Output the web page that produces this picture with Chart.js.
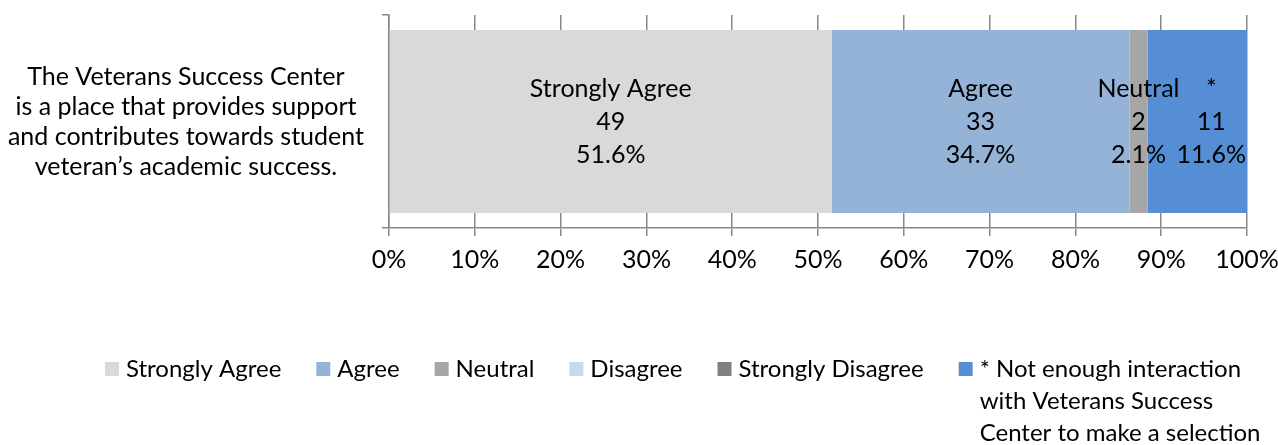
<!DOCTYPE html>
<html>
<head>
<meta charset="utf-8">
<script src="https://cdn.jsdelivr.net/npm/chart.js@4/dist/chart.umd.min.js"></script>
<style>
  html, body { margin: 0; padding: 0; background: #ffffff; }
  #wrap { position: relative; width: 1278px; height: 445px; }
</style>
</head>
<body>
<div id="wrap"><canvas id="chart"></canvas></div>
<script>
// Survey statement shown on the category axis (one bar)
const categories = [[
  'The Veterans Success Center',
  'is a place that provides support',
  'and contributes towards student',
  'veteran\u2019s academic success.'
]];

// Response options, in stacking order
const seriesNames = [
  'Strongly Agree',
  'Agree',
  'Neutral',
  'Disagree',
  'Strongly Disagree',
  '* Not enough interaction with Veterans Success Center to make a selection'
];
const shortNames = ['Strongly Agree', 'Agree', 'Neutral', 'Disagree', 'Strongly Disagree', '*'];
const counts   = [49, 33, 2, 0, 0, 11];
const percents = [51.6, 34.7, 2.1, 0, 0, 11.6];
const colors   = ['#D9D9D9', '#95B3D7', '#A6A6A6', '#C6D9F1', '#808080', '#558ED5'];

const FONT_FAMILY = 'Lato, "Open Sans", sans-serif';
const FONT_SIZE = 25;
const LEGEND_FONT_SIZE = 24;
const AXIS_COLOR = '#878787';

// Three-line labels (name / count / percent) centred on each segment
const segmentLabels = {
  id: 'segmentLabels',
  afterDatasetsDraw(chart, args, opts) {
    const ctx = chart.ctx;
    ctx.save();
    ctx.font = `${FONT_SIZE}px ${FONT_FAMILY}`;
    ctx.fillStyle = '#000';
    ctx.textAlign = 'center';
    ctx.textBaseline = 'middle';
    chart.data.datasets.forEach((ds, i) => {
      if (!percents[i]) return;
      const el = chart.getDatasetMeta(i).data[0];
      const cx = (el.x + el.base) / 2 + ((opts.shift && opts.shift[i]) || 0);
      const cy = el.y;
      const lines = [shortNames[i], String(counts[i]), percents[i].toFixed(1) + '%'];
      lines.forEach((t, k) => ctx.fillText(t, cx, cy + (k - 1) * opts.lineGap));
    });
    ctx.restore();
  }
};

// Legend row below the axis, last entry word-wrapped to the right edge
const bottomLegend = {
  id: 'bottomLegend',
  afterDraw(chart, args, opts) {
    const ctx = chart.ctx;
    ctx.save();
    ctx.font = `${LEGEND_FONT_SIZE}px ${FONT_FAMILY}`;
    ctx.textBaseline = 'middle';
    ctx.textAlign = 'left';
    let x = opts.startX;
    const y = opts.y;
    chart.data.datasets.forEach((ds) => {
      ctx.fillStyle = ds.backgroundColor;
      ctx.fillRect(x, y - opts.box / 2, opts.box, opts.box);
      const tx = x + opts.box + opts.textGap;
      const maxW = chart.width - tx - 1;
      const words = ds.label.split(' ');
      const lines = [];
      let cur = '';
      words.forEach(w => {
        const trial = cur ? cur + ' ' + w : w;
        if (cur && ctx.measureText(trial).width > maxW) { lines.push(cur); cur = w; }
        else cur = trial;
      });
      if (cur) lines.push(cur);
      ctx.fillStyle = '#000';
      let widest = 0;
      lines.forEach((l, k) => {
        ctx.fillText(l, tx, y + k * opts.lineGap);
        widest = Math.max(widest, ctx.measureText(l).width);
      });
      x = tx + widest + opts.itemGap;
    });
    ctx.restore();
  }
};

const datasets = seriesNames.map((name, i) => ({
  label: name,
  data: [percents[i]],
  backgroundColor: colors[i],
  borderWidth: 0,
  categoryPercentage: 1,
  barPercentage: 0.86
}));

new Chart(document.getElementById('chart'), {
  type: 'bar',
  data: { labels: categories, datasets },
  options: {
    indexAxis: 'y',
    responsive: true,
    maintainAspectRatio: false,
    animation: false,
    events: [],
    layout: { padding: { left: 0, right: 31, top: 15, bottom: 172 } },
    scales: {
      x: {
        stacked: true,
        min: 0,
        max: 100,
        afterFit(scale) { scale.height = 45; scale.paddingLeft = 0; scale.paddingRight = 0; },
        grid: { color: AXIS_COLOR, lineWidth: 1.5, tickLength: 8, drawOnChartArea: true },
        border: { color: AXIS_COLOR, width: 1.5 },
        ticks: {
          stepSize: 10,
          padding: 9,
          color: '#000',
          font: { family: FONT_FAMILY, size: FONT_SIZE },
          maxRotation: 0,
          autoSkip: false,
          callback: v => v + '%'
        }
      },
      y: {
        stacked: true,
        offset: true,
        afterFit(scale) { scale.width = 389; scale.paddingTop = 0; scale.paddingBottom = 0; },
        grid: { offset: true, drawOnChartArea: false, color: AXIS_COLOR, lineWidth: 1.5, tickLength: 7 },
        border: { color: AXIS_COLOR, width: 1.5 },
        ticks: {
          crossAlign: 'center',
          padding: 18,
          color: '#000',
          font: { family: FONT_FAMILY, size: FONT_SIZE, lineHeight: 1.2 }
        }
      }
    },
    plugins: {
      legend: { display: false },
      tooltip: { enabled: false },
      segmentLabels: { lineGap: 33, shift: { 5: 14 } },
      bottomLegend: { startX: 105, y: 369, box: 14, textGap: 7, itemGap: 35, lineGap: 32 }
    }
  },
  plugins: [segmentLabels, bottomLegend]
});
</script>
</body>
</html>
